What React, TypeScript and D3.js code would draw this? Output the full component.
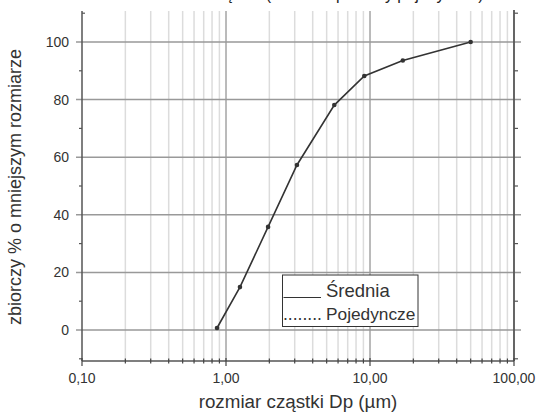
import React from "react";
import * as d3 from "d3";

const sizes = [0.866, 1.25, 1.96, 3.11, 5.65, 9.13, 16.9, 50];
const cumulative = [0.7, 14.9, 35.8, 57.3, 78.1, 88.2, 93.6, 100];
const yMajorTicks = [0, 20, 40, 60, 80, 100];
const yMinorTicks = [-10, 10, 30, 50, 70, 90, 110];
const xDecades = [0.1, 1, 10, 100];
const xLabels = ["0,10", "1,00", "10,00", "100,00"];
const legendDots = "........";
const legendLabels = ["Średnia", "Pojedyncze"];

export default function App() {
  const W = 538, H = 415;
  const left = 82, right = 514, top = 13.2, bottom = 358.8;
  const x = d3.scaleLog().domain([0.1, 100]).range([left, right]);
  const y = d3.scaleLinear().domain([-10, 110]).range([bottom, top]);
  const minor: number[] = [];
  [0.1, 1, 10].forEach((d) => {
    for (let k = 2; k <= 9; k++) minor.push(d * k);
  });
  const line = d3
    .line<number>()
    .x((_, i) => x(sizes[i]))
    .y((d) => y(d));
  const font = "'Liberation Sans', Arial, sans-serif";
  const axisBottom = 361;
  return (
    <svg
      width={W}
      height={H}
      style={{ position: "absolute", left: 0, top: 0, background: "#fff" }}
      fontFamily={font}
    >
      <text x={280} y={0} textAnchor="middle" fontSize={16} fill="#222">
        Rozkład wielkości cząstek (średnia i pomiary pojedyncze)
      </text>
      {/* minor vertical gridlines */}
      {minor.map((v) => (
        <line key={"m" + v} x1={x(v)} x2={x(v)} y1={11} y2={axisBottom} stroke="#dcdcdc" strokeWidth={1.5} />
      ))}
      {[1, 10].map((v) => (
        <line key={"d" + v} x1={x(v)} x2={x(v)} y1={11} y2={axisBottom} stroke="#777" strokeWidth={1} />
      ))}
      {/* horizontal gridlines */}
      {yMajorTicks.map((v) => (
        <line key={"h" + v} x1={76} x2={521} y1={y(v)} y2={y(v)} stroke="#999" strokeWidth={1.5} />
      ))}
      {/* left axis */}
      <line x1={left} x2={left} y1={11} y2={axisBottom} stroke="#555" strokeWidth={1.5} />
      {yMinorTicks.map((v) => (
        <line key={"lt" + v} x1={v === 110 ? left : left - 3} x2={v === 110 ? left + 3 : left} y1={y(v)} y2={y(v)} stroke="#555" strokeWidth={1.2} />
      ))}
      {/* right axis */}
      <line x1={right} x2={right} y1={10} y2={axisBottom} stroke="#555" strokeWidth={1.8} />
      {yMinorTicks.map((v) => (
        <line key={"rt" + v} x1={right} x2={right + 4} y1={y(v)} y2={y(v)} stroke="#555" strokeWidth={1.2} />
      ))}
      {/* bottom axis */}
      <line x1={left} x2={right} y1={axisBottom} y2={axisBottom} stroke="#555" strokeWidth={1.5} />
      {minor.map((v) => (
        <line key={"bt" + v} x1={x(v)} x2={x(v)} y1={axisBottom - 2.5} y2={axisBottom + 2.5} stroke="#444" strokeWidth={1.2} />
      ))}
      {xDecades.map((v) => (
        <line key={"bd" + v} x1={x(v)} x2={x(v)} y1={axisBottom - 3} y2={axisBottom + 5} stroke="#444" strokeWidth={1.2} />
      ))}
      {/* tick labels */}
      {yMajorTicks.map((v) => (
        <text key={"yl" + v} x={69} y={y(v)} dy="0.36em" textAnchor="end" fontSize={14} fill="#333">
          {v}
        </text>
      ))}
      {xDecades.map((v, i) => (
        <text key={"xl" + v} x={x(v)} y={383} textAnchor="middle" fontSize={14} fill="#333">
          {xLabels[i]}
        </text>
      ))}
      {/* axis titles */}
      <text x={298} y={408} textAnchor="middle" fontSize={18.8} fill="#333">
        rozmiar cząstki Dp (µm)
      </text>
      <text transform="translate(21,187) rotate(-90)" textAnchor="middle" fontSize={18} fill="#333">
        zbiorczy % o mniejszym rozmiarze
      </text>
      {/* data */}
      <path d={line(cumulative) || ""} fill="none" stroke="#333" strokeWidth={1.6} />
      {cumulative.map((v, i) => (
        <circle key={"p" + i} cx={x(sizes[i])} cy={y(v)} r={2.3} fill="#333" />
      ))}
      {/* legend */}
      <rect x={282.5} y={275} width={135.5} height={51.5} fill="#fff" stroke="#333" strokeWidth={1} />
      <line x1={283.5} x2={321} y1={297.5} y2={297.5} stroke="#333" strokeWidth={1.2} />
      <text x={326} y={296.5} fontSize={18.5} fill="#333">
        {legendLabels[0]}
      </text>
      <text x={283} y={320} fontSize={18} fill="#333" textLength={39} lengthAdjust="spacingAndGlyphs">
        {legendDots}
      </text>
      <text x={326} y={320} fontSize={17.3} fill="#333">
        {legendLabels[1]}
      </text>
    </svg>
  );
}
